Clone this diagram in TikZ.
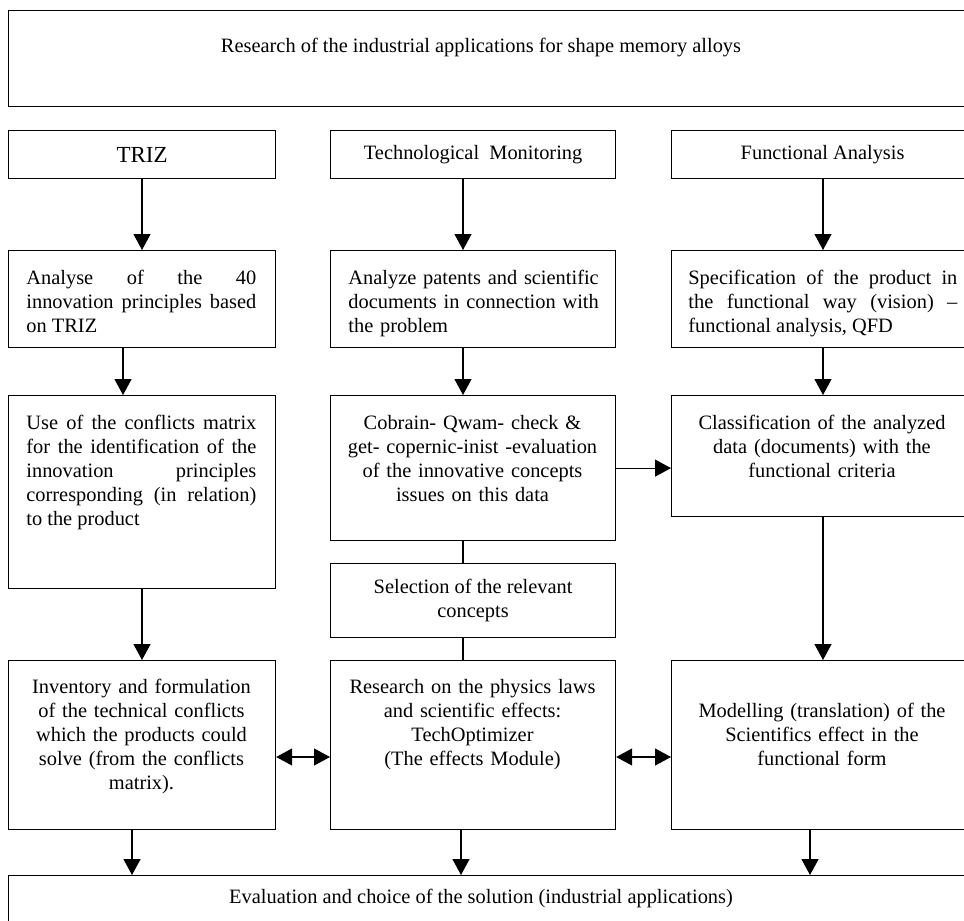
\documentclass[tikz,border=0pt]{standalone}
\usepackage{fontspec}
\setmainfont{Liberation Serif}
\usetikzlibrary{arrows.meta,positioning,calc}

\begin{document}
\begin{tikzpicture}[x=0.5pt,y=-0.5pt,
  box/.style={draw,line width=0.6pt,inner sep=0pt,anchor=north west,
    font=\fontsize{10.2}{12}\selectfont,align=center},
  txt/.style={inner sep=0pt,anchor=base,font=\fontsize{10.2}{12}\selectfont,align=center},
  jtxt/.style={inner sep=0pt,anchor=base west,font=\fontsize{10.2}{12}\selectfont,align=justify},
  arr/.style={line width=0.6pt,-{Triangle[width=8.5pt,length=8pt]}},
  darr/.style={line width=0.6pt,{Triangle[width=8.5pt,length=8pt]}-{Triangle[width=8.5pt,length=8pt]}},
  lnk/.style={line width=0.6pt}]
\clip (0,0) rectangle (964,921);
% boxes
\node[box,minimum width=482.5pt,minimum height=48pt] (top) at (8,10) {};
\node[box,minimum width=133.5pt,minimum height=24pt,font=\fontsize{11.5}{13}\selectfont] (triz) at (8,130) {TRIZ};
\node[box,minimum width=142.5pt,minimum height=24pt] (tech) at (330,130) {Technological~ Monitoring};
\node[box,minimum width=151pt,minimum height=24pt] (func) at (671,130) {Functional Analysis};
\node[box,minimum width=133.5pt,minimum height=48.5pt] (ana) at (8,250) {};
\node[box,minimum width=142.5pt,minimum height=48.5pt] (pat) at (330,250) {};
\node[box,minimum width=151pt,minimum height=48.5pt] (spec) at (671,250) {};
\node[box,minimum width=133.5pt,minimum height=96.5pt] (conf) at (8,395) {};
\node[box,minimum width=142.5pt,minimum height=72.5pt] (cob) at (330,395) {};
\node[box,minimum width=151pt,minimum height=60.5pt] (cla) at (671,395) {};
\node[box,minimum width=142.5pt,minimum height=37pt] (sel) at (330,563) {Selection of the relevant\\concepts};
\node[box,minimum width=133.5pt,minimum height=84.5pt] (inv) at (8,660) {};
\node[box,minimum width=142.5pt,minimum height=84.5pt] (res) at (330,660) {};
\node[box,minimum width=151pt,minimum height=84.5pt] (mod) at (671,660) {};
\node[box,minimum width=482.5pt,minimum height=35pt] (eval) at (8,875) {};
% texts
\node[txt] (ttl) at (481,52) {Research of the industrial applications for shape memory alloys};
\node[jtxt,text width=115pt] (t2a) at (26,284) {Analyse of the 40\linebreak innovation principles based\linebreak on TRIZ};
\node[jtxt,text width=140pt,align=left] (t2b) at (348,284) {Analyze patents and scientific\\documents in connection with\\the problem};
\node[jtxt,text width=134.5pt] (t2c) at (688,284) {Specification of the product in\linebreak the functional way (vision) --\linebreak functional analysis, QFD};
\node[jtxt,text width=115pt] (t3a) at (26,429) {Use of the conflicts matrix\linebreak for the identification of the\linebreak innovation principles\linebreak corresponding (in relation)\linebreak to the product};
\node[txt,text width=140pt] (t3b) at (472.5,429) {Cobrain- Qwam- check \&\\get- copernic-inist -evaluation\\of the innovative concepts\\issues on this data};
\node[txt,text width=140pt] (t3c) at (822,429) {Classification of the analyzed\\data (documents) with the\\functional criteria};
\node[txt,text width=125pt] (t4a) at (141.5,693) {Inventory and formulation\\of the technical conflicts\\which the products could\\solve (from the conflicts\\matrix).};
\node[txt,text width=140pt] (t4b) at (472.5,693) {Research on the physics laws\\and scientific effects:\\TechOptimizer\\(The effects Module)};
\node[txt,text width=140pt] (t4c) at (822,717) {Modelling (translation) of the\\Scientifics effect in the\\functional form};
\node[txt] (t5) at (481,903) {Evaluation and choice of the solution (industrial applications)};
% connectors
\coordinate (xa) at (142,0);
\coordinate (xb) at (123,0);
\coordinate (xc) at (463,0);
\coordinate (xd) at (823,0);
\coordinate (ya) at (0,757);
\coordinate (ea) at (132,0);
\coordinate (eb) at (461,0);
\coordinate (ec) at (810,0);
\draw[arr] (xa |- triz.south) -- (xa |- ana.north);
\draw[arr] (xc |- tech.south) -- (xc |- pat.north);
\draw[arr] (xd |- func.south) -- (xd |- spec.north);
\draw[arr] (xb |- ana.south) -- (xb |- conf.north);
\draw[arr] (xc |- pat.south) -- (xc |- cob.north);
\draw[arr] (xd |- spec.south) -- (xd |- cla.north);
\draw[arr] (cob.east) -- (cob.east -| cla.west);
\draw[lnk] (xc |- cob.south) -- (xc |- sel.north);
\draw[lnk] (xc |- sel.south) -- (xc |- res.north);
\draw[arr] (xa |- conf.south) -- (xa |- inv.north);
\draw[arr] (xd |- cla.south) -- (xd |- mod.north);
\draw[darr] (inv.east |- ya) -- (res.west |- ya);
\draw[darr] (res.east |- ya) -- (mod.west |- ya);
\draw[arr] (ea |- inv.south) -- (ea |- eval.north);
\draw[arr] (eb |- res.south) -- (eb |- eval.north);
\draw[arr] (ec |- mod.south) -- (ec |- eval.north);
\end{tikzpicture}
\end{document}
